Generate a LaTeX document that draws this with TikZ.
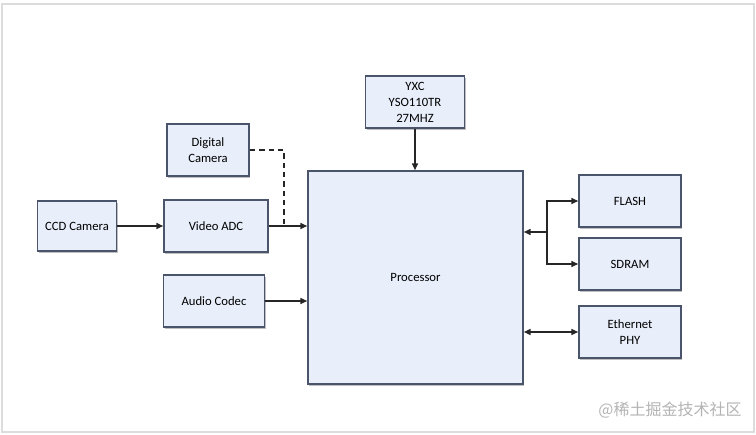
\documentclass[tikz,border=0pt]{standalone}
\usepackage{fontspec}
\setmainfont{Carlito}
\newfontfamily\cjkfont{Noto Sans CJK SC}
\usetikzlibrary{arrows.meta, shadows, positioning}
\definecolor{boxFill}{HTML}{E8EEFA}
\definecolor{boxEdge}{HTML}{4A556C}
\definecolor{frameGrey}{HTML}{DCDCDC}
\definecolor{markGrey}{HTML}{B4B4B4}
\tikzset{
  blk/.style      = {draw=boxEdge, line width=1.3pt, fill=boxFill, align=center,
                     font=\fontsize{9.5}{12}\selectfont, inner sep=2pt,
                     drop shadow={shadow xshift=1pt, shadow yshift=-1.4pt, opacity=0.5}},
  sigline/.style  = {-{Triangle[length=5pt, width=4.5pt]}, line width=0.9pt, black!85},
  busline/.style  = {{Triangle[length=5pt, width=4.5pt]}-{Triangle[length=5pt, width=4.5pt]},
                     line width=0.9pt, black!85},
  dashline/.style = {line width=0.9pt, black!85, dash pattern=on 4pt off 3pt},
}

\begin{document}
\begin{tikzpicture}[x=0.75pt, y=-0.75pt]
  % page and faint frame
  \useasboundingbox (0,0) rectangle (756,435);
  \fill[white] (0,0) rectangle (756,435);
  \draw[frameGrey, line width=0.8pt] (2,4) rectangle (754,432);

  % blocks
  \node[blk, minimum width=161.25pt, minimum height=159.75pt] (proc) at (415.5,277.5) {Processor};
  \node[blk, minimum width=74.25pt, minimum height=39pt] (osc) at (415,102) {YXC\\YSO110TR\\27MHZ};
  \node[blk, minimum width=61.5pt, minimum height=39pt] (digcam) at (208,150) {Digital\\Camera};
  \node[blk, minimum width=59.25pt, minimum height=37.5pt] (ccd) at (77,226) {CCD Camera};
  \node[blk, minimum width=78pt, minimum height=39pt] (vadc) at (216,226) {Video ADC};
  \node[blk, minimum width=75.75pt, minimum height=39pt] (acodec) at (214,301) {Audio Codec};
  \node[blk, minimum width=76.5pt, minimum height=39pt] (flash) at (630,201) {FLASH};
  \node[blk, minimum width=76.5pt, minimum height=39pt] (sdram) at (630,264) {SDRAM};
  \node[blk, minimum width=76.5pt, minimum height=39pt] (ephy) at (630,332) {Ethernet\\PHY};

  % inputs
  \draw[sigline] (ccd.east) -- (vadc.west);
  \draw[sigline] (vadc.east) -- (vadc.east -| proc.west);
  \draw[sigline] (acodec.east) -- (acodec.east -| proc.west);
  \draw[sigline] (osc.south) -- (proc.north -| osc.south);
  \coordinate (dj) at (284,226);
  \draw[dashline] (digcam.east) -| (dj);

  % memory bus
  \coordinate (br) at (547,232);
  \draw[sigline] (br) -- (br -| proc.east);
  \draw[sigline] (br) |- (flash.west);
  \draw[sigline] (br) |- (sdram.west);
  \draw[busline] (ephy.west -| proc.east) -- (ephy.west);

  % watermark
  \node[markGrey, font=\cjkfont\fontsize{12}{14}\selectfont] (wmark) at (670,410) {@稀土掘金技术社区};
\end{tikzpicture}
\end{document}
